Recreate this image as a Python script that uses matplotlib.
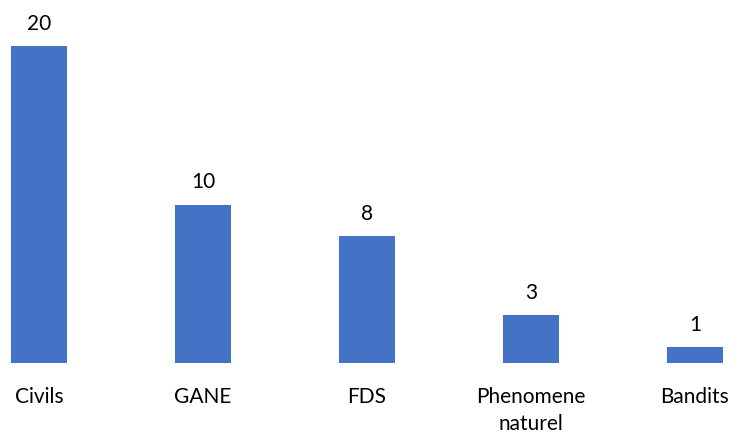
import matplotlib.pyplot as plt

categories = ["Civils", "GANE", "FDS", "Phenomene\nnaturel", "Bandits"]
values = [20, 10, 8, 3, 1]

plt.rcParams['font.family'] = ['Lato', 'DejaVu Sans']

fig = plt.figure(figsize=(7.44, 4.34), dpi=100)
px_per_unit = 15.85
base = (434 - 363) / 434
top_units = 22.8
ax = fig.add_axes([0, base, 1, top_units * px_per_unit / 434])

x = list(range(len(categories)))
bars = ax.bar(x, values, width=0.34, color="#4472C4")

for xi, v in zip(x, values):
    ax.annotate(str(v), (xi, v), xytext=(0, 9), textcoords="offset points",
                ha="center", va="bottom", fontsize=15, color="#000000")

for xi, lab in zip(x, categories):
    ax.annotate(lab, (xi, 0), xytext=(0, -17), textcoords="offset points",
                ha="center", va="top", fontsize=15, color="#000000",
                linespacing=1.45, annotation_clip=False)

ax.set_xlim(-39 / 164, (744 - 39) / 164)
ax.set_ylim(0, top_units)
ax.axis("off")

fig.savefig("out.png", dpi=100)
